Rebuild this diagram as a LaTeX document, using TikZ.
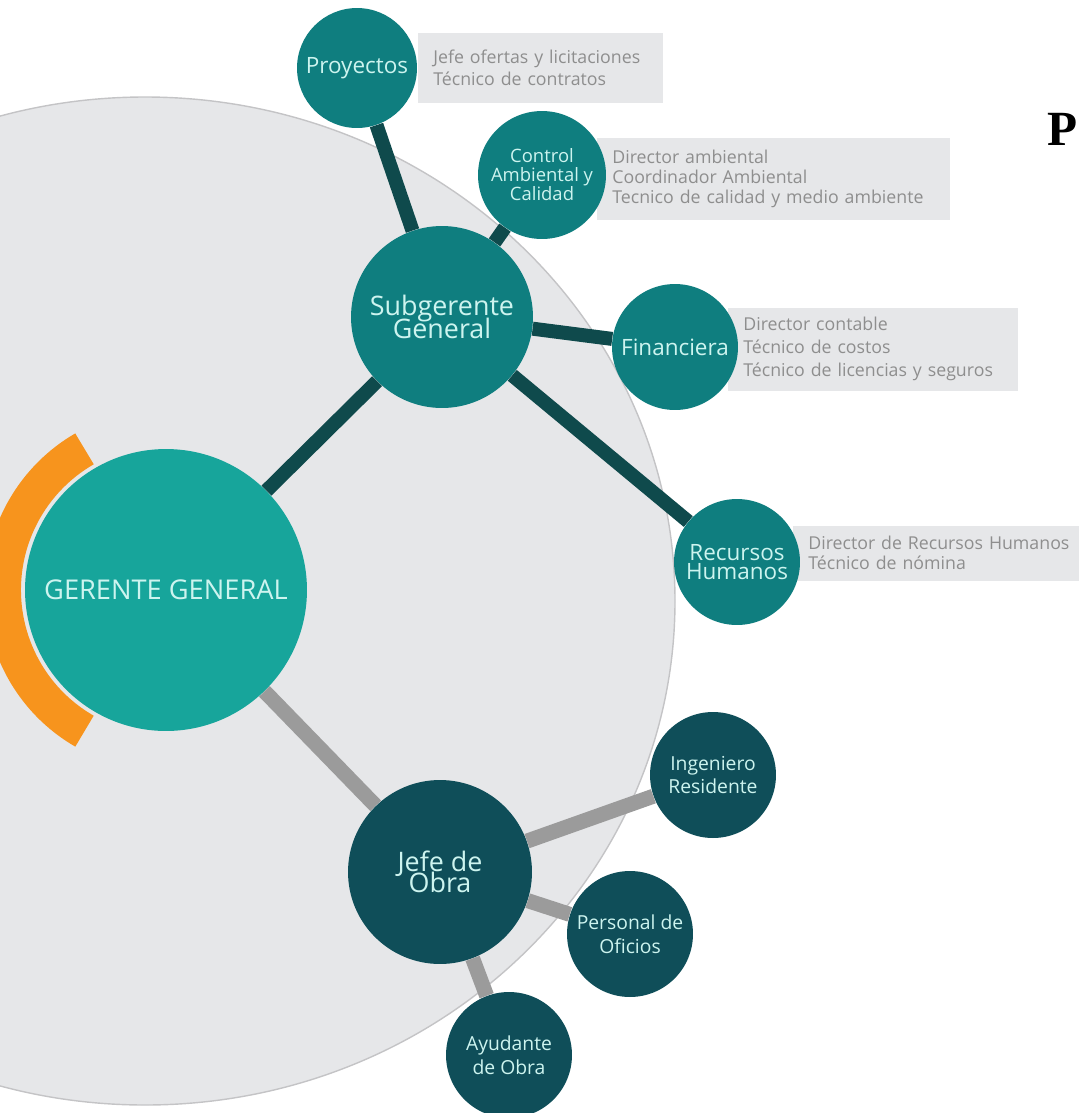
\documentclass[tikz,border=0pt]{standalone}
\usepackage{fontspec}
\setmainfont{Open Sans}
\newfontfamily\serifbold{Liberation Serif}
\hyphenpenalty=10000
\newcommand\tightlines{\lineskiplimit-20pt\relax}

\definecolor{discgrey}{HTML}{E6E7E9}
\definecolor{rimgrey}{HTML}{C4C4C6}
\definecolor{boxgrey}{HTML}{E6E7E9}
\definecolor{infotext}{HTML}{8E8E8E}
\definecolor{bubbletext}{HTML}{CDF4EF}
\definecolor{tealtop}{HTML}{17A59B}
\definecolor{tealmid}{HTML}{0F7E7F}
\definecolor{tealdeep}{HTML}{0F4E59}
\definecolor{linkdark}{HTML}{0F4A4C}
\definecolor{linkgrey}{HTML}{9B9B9B}
\definecolor{arcorange}{HTML}{F7941D}

\tikzset{
  disc/.style={fill=discgrey,draw=rimgrey,line width=0.8pt},
  bubble/.style={circle,inner sep=0pt,text=bubbletext,align=center},
  topbub/.style={bubble,fill=tealtop,minimum size=5.64cm,font=\fontsize{15.5}{17}\selectfont},
  midbub/.style={bubble,fill=tealmid},
  deepbub/.style={bubble,fill=tealdeep},
  info/.style={anchor=west,fill=boxgrey,text=infotext,align=left,inner xsep=0.3cm,inner ysep=0pt},
  dlink/.style={draw=linkdark,line width=0.28cm},
  glink/.style={draw=linkgrey,line width=0.3cm}
}

\begin{document}
\begin{tikzpicture}[x=0.02cm,y=-0.02cm]
\useasboundingbox (0,0) rectangle (1079,1113);

% background disc and orange band
\draw[disc] (145,601) ellipse [x radius=530,y radius=504];
\draw[arcorange,line width=0.72cm] (166,590) ++(120:163) arc[start angle=120,end angle=240,radius=163];

% grey boxes with the posts
\node[info,text width=4.3cm,minimum height=1.4cm,font=\fontsize{10.1}{12.5}\selectfont] (proyinfo) at (418,68)
  {Jefe ofertas y licitaciones\\Técnico de contratos};
\node[info,text width=6.45cm,minimum height=1.64cm,font=\fontsize{10.1}{11.4}\selectfont] (ctrlinfo) at (597,179)
  {Director ambiental\\Coordinador Ambiental\\Tecnico de calidad y medio ambiente};
\node[info,text width=5.2cm,minimum height=1.66cm,font=\fontsize{10.1}{13.3}\selectfont] (fininfo) at (728,349)
  {Director contable\\Técnico de costos\\Técnico de licencias y seguros};
\node[info,text width=5.44cm,minimum height=1.1cm,font=\fontsize{10.1}{11.4}\selectfont] (rrhhinfo) at (793,553)
  {Director de Recursos Humanos\\Técnico de nómina};

% circles
\node[topbub] (ger) at (166,590) {GERENTE GENERAL};
\node[midbub,minimum size=3.64cm,font=\fontsize{15.3}{12.8}\selectfont\tightlines] (sub) at (442,317) {Subgerente\\General};
\node[midbub,minimum size=2.4cm,font=\fontsize{12.8}{14}\selectfont] (proy) at (357,68) {Proyectos};
\node[midbub,minimum size=2.56cm,font=\fontsize{10.5}{10.8}\selectfont] (ctrl) at (542,175) {Control\\Ambiental y\\Calidad};
\node[midbub,minimum size=2.52cm,font=\fontsize{12.8}{14}\selectfont] (fin) at (675,347) {Financiera};
\node[midbub,minimum size=2.52cm,font=\fontsize{12.8}{11.3}\selectfont] (rrhh) at (737,562) {Recursos\\Humanos};
\node[deepbub,minimum size=3.68cm,font=\fontsize{15.3}{11.8}\selectfont\tightlines] (jefe) at (440,872) {Jefe de\\Obra};
\foreach \nm/\x/\y/\txt in {ing/713/775/{Ingeniero\\Residente},
                             per/630/934/{Personal de\\Oficios},
                             ayu/509/1055/{Ayudante\\de Obra}}
{
    \node[deepbub,minimum size=2.52cm,font=\fontsize{11}{13.4}\selectfont] (\nm) at (\x,\y) {\txt};
}

% links
\draw[dlink] (ger) -- (sub);
\foreach \nm in {proy,ctrl,fin,rrhh}
{
    \draw[dlink] (sub) -- (\nm);
}
\draw[glink] (ger) -- (jefe);
\foreach \nm in {ing,per,ayu}
{
    \draw[glink] (jefe) -- (\nm);
}

\node[anchor=base west,inner sep=0pt,font=\serifbold\bfseries\fontsize{28}{30}\selectfont] (ptxt) at (1047,145) {P};
\end{tikzpicture}
\end{document}
